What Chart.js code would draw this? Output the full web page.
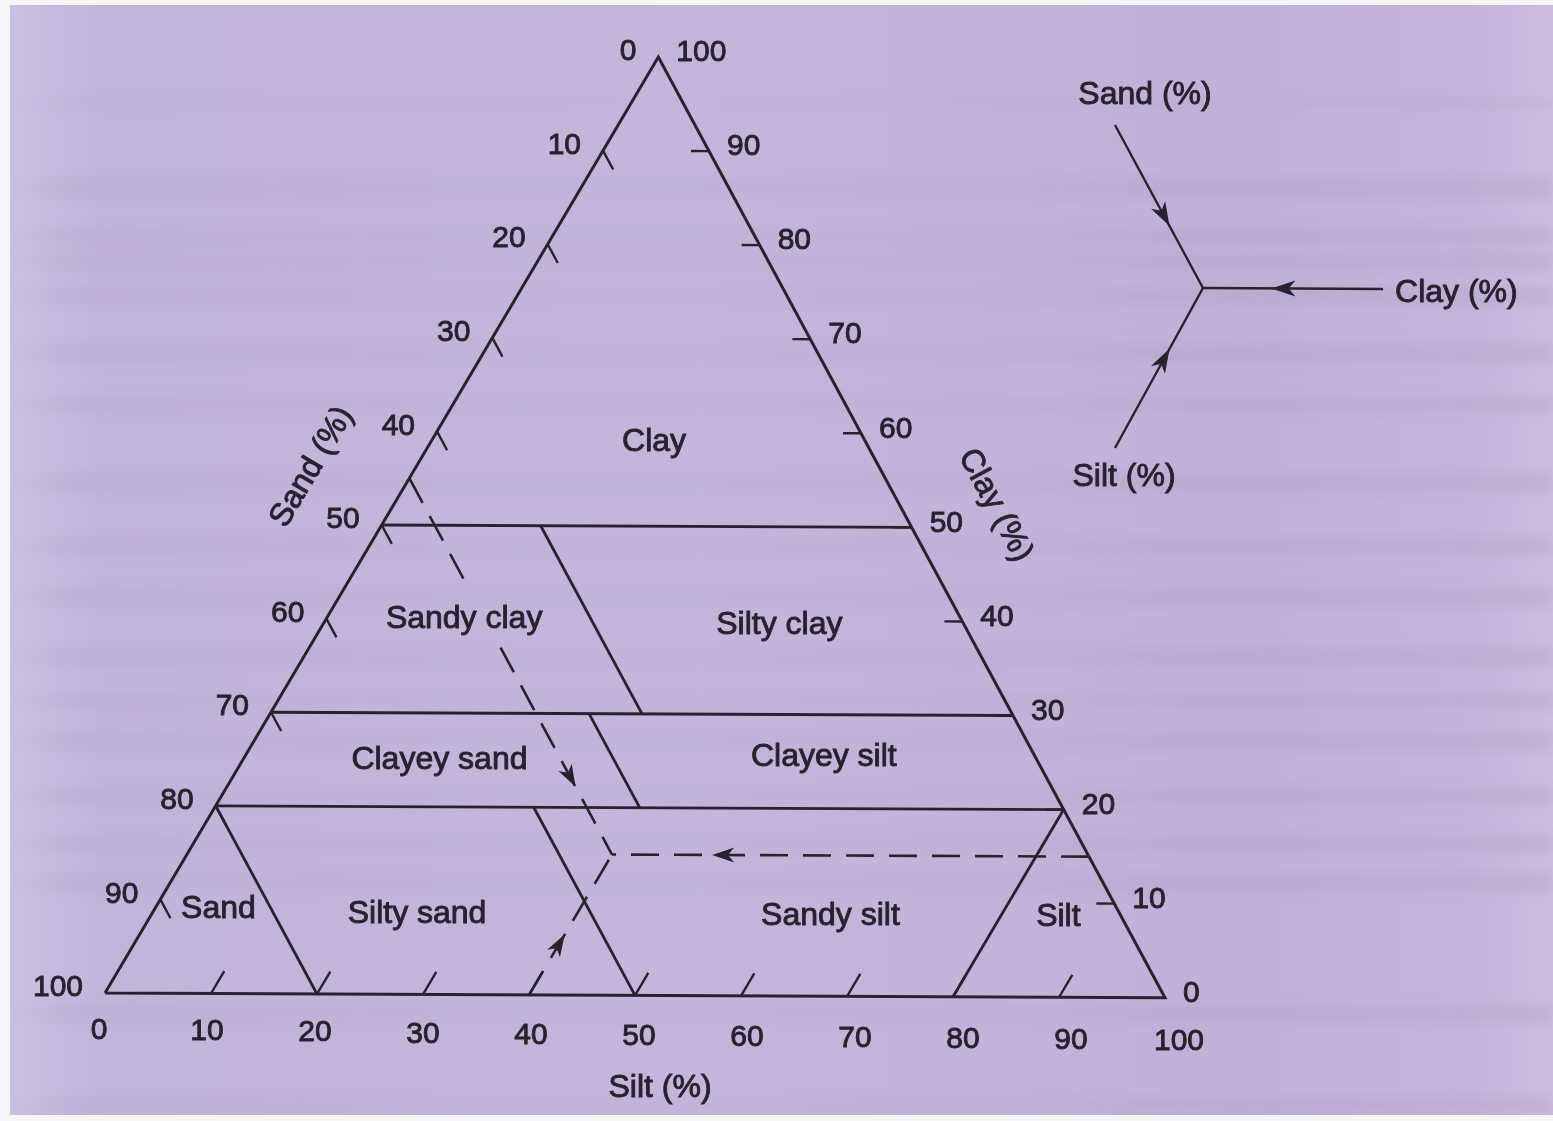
<!DOCTYPE html>
<html>
<head>
<meta charset="utf-8">
<title>Soil texture triangle</title>
<script src="https://cdn.jsdelivr.net/npm/chart.js@4.4.1/dist/chart.umd.min.js"></script>
<style>
  html, body { margin: 0; padding: 0; background: #f7f5fa; }
  #sheet {
    position: absolute; left: 10px; top: 5px; width: 1543px; height: 1110px; overflow: hidden;
    background: linear-gradient(to right, #c8c0e2 0%, #c2b5da 6%, #c4b6db 45%, #c1b1d8 80%, #c7b4db 95%, #cdbbe0 100%);
  }
  #show { position: absolute; left: 0; top: 0; width: 100%; height: 100%; filter: blur(5px); }
  #wrap { position: absolute; left: 0; top: 0; width: 1553px; height: 1121px; }
</style>
</head>
<body>
<div id="sheet"><div id="show"></div></div>
<div id="wrap"><canvas id="soil" width="1553" height="1121"></canvas></div>
<script>
// scale values along each side of the triangle
const sandTicks = [0, 10, 20, 30, 40, 50, 60, 70, 80, 90, 100];
const clayTicks = [0, 10, 20, 30, 40, 50, 60, 70, 80, 90, 100];
const siltTicks = [0, 10, 20, 30, 40, 50, 60, 70, 80, 90, 100];

// class boundaries, end points as [clay %, silt %]
const boundaries = [
  [[50, 0], [50, 50]],
  [[30, 0], [30, 70]],
  [[20, 0], [20, 80]],
  [[50, 15], [30, 35]],
  [[30, 30], [20, 40]],
  [[20, 30], [0, 50]],
  [[20, 0], [0, 20]],
  [[20, 80], [0, 80]]
];

// soil classes and where their names sit, as [clay %, silt %]
const classNames = ['Clay', 'Sandy clay', 'Silty clay', 'Clayey sand', 'Clayey silt', 'Sand', 'Silty sand', 'Sandy silt', 'Silt'];
const classLabelAt = [[59, 21], [40, 13], [39.5, 43], [25, 18.5], [25.5, 54.5], [9, 6], [8.5, 25], [8.5, 64], [8.5, 85.5]];

// worked example
const sample = { sand: 45, silt: 40, clay: 15 };
// the sand guide stops around the "Sandy clay" name (clay %)
const sandGuideGap = [43.5, 37];

// plotting frame: x = silt + SKEW*clay, y = clay - TILT*silt
const SKEW = 0.522, TILT = 0.005;
const X_MIN = -9.906, X_MAX = 136.6, Y_MIN = -13.67, Y_MAX = 106.09;
const INK = '#28222f';
const NUM_FONT = '30px "Liberation Sans", Arial, sans-serif';
const NAME_FONT = '32px "Liberation Sans", Arial, sans-serif';

// direction legend (plot units)
const legendHub = { x: 103.58, y: 75.32 };
const legendArms = [
  { label: 'Sand (%)', from: { x: 95.28, y: 92.74 }, text: { x: 98.11, y: 95.94 }, align: 'center' },
  { label: 'Clay (%)', from: { x: 120.57, y: 75.21 }, text: { x: 121.7, y: 74.8 }, align: 'left' },
  { label: 'Silt (%)', from: { x: 95.28, y: 58.23 }, text: { x: 96.13, y: 55.13 }, align: 'center' }
];

// faint show-through from the facing page (y px, height px)
const showThrough = [[95, 6], [172, 22], [222, 18], [248, 18], [282, 18], [338, 20], [392, 16], [468, 20],
  [532, 18], [582, 20], [642, 20], [688, 16], [726, 20], [782, 18], [830, 18], [868, 20], [1000, 18], [1092, 16]];
document.getElementById('show').style.background = showThrough.map(([top, h]) =>
  `linear-gradient(to right, rgba(70,60,90,0) 0%, rgba(70,60,90,0.035) 3%, rgba(70,60,90,0.015) 30%, rgba(70,60,90,0.02) 60%, rgba(70,60,90,0.05) 75%, rgba(70,60,90,0.06) 100%) 0 ${top}px / 100% ${h}px no-repeat`
).join(',');

function tern(clay, silt) {
  return { x: silt + SKEW * clay, y: clay - TILT * silt };
}

function seg(a, b, extra) {
  return Object.assign({
    data: [a, b], showLine: true, borderColor: INK, borderWidth: 2.8,
    pointRadius: 0, fill: false, tension: 0
  }, extra || {});
}

const datasets = [];

// outline
datasets.push({
  data: [tern(0, 0), tern(0, 100), tern(100, 0), tern(0, 0)],
  showLine: true, borderColor: INK, borderWidth: 3, pointRadius: 0, fill: false
});

boundaries.forEach(([a, b]) => datasets.push(seg(tern(a[0], a[1]), tern(b[0], b[1]))));

// ticks: sand side points along constant sand, clay side along constant clay, silt side along constant silt
const TICK_SAND = 2, TICK_CLAY = 1.7, TICK_SILT = 2.4;
sandTicks.slice(1, -1).forEach(v => {
  const c = 100 - v;
  datasets.push(seg(tern(c, 0), tern(c - TICK_SAND, TICK_SAND), { borderWidth: 2.4 }));
});
clayTicks.slice(1, -1).forEach(v => {
  const s = 100 - v;
  datasets.push(seg(tern(v, s), tern(v, s - TICK_CLAY), { borderWidth: 2.4 }));
});
siltTicks.slice(1, -1).forEach(v => {
  datasets.push(seg(tern(0, v), tern(TICK_SILT, v), { borderWidth: 2.4 }));
});

// dashed guides to the example point
const dash = { borderDash: [28, 15], borderWidth: 2.6 };
const onSand = c => tern(c, 100 - sample.sand - c);
const sandTop = 100 - sample.sand;
datasets.push(seg(onSand(sandTop), onSand(sandGuideGap[0]), dash));
datasets.push(seg(onSand(sandGuideGap[1]), onSand(sample.clay), dash));
datasets.push(seg(tern(sample.clay, 100 - sample.clay), tern(sample.clay, sample.silt), dash));
datasets.push(seg(tern(0, sample.silt), tern(sample.clay, sample.silt), dash));

// legend arms
legendArms.forEach(arm => datasets.push(seg(arm.from, legendHub, { borderWidth: 2.4 })));

function arrowHead(ctx, a, b, t, len, half) {
  const ang = Math.atan2(b[1] - a[1], b[0] - a[0]);
  const tipX = a[0] + (b[0] - a[0]) * t, tipY = a[1] + (b[1] - a[1]) * t;
  ctx.save();
  ctx.translate(tipX, tipY);
  ctx.rotate(ang);
  ctx.beginPath();
  ctx.moveTo(0, 0);
  ctx.lineTo(-len, -half);
  ctx.lineTo(-len * 0.72, 0);
  ctx.lineTo(-len, half);
  ctx.closePath();
  ctx.fillStyle = INK;
  ctx.fill();
  ctx.restore();
}

// heavier ink for printed lettering
function inkText(ctx, str, x, y) {
  ctx.fillText(str, x, y);
  ctx.strokeText(str, x, y);
}

const inkPlugin = {
  id: 'ternaryInk',
  afterDatasetsDraw(chart) {
    const { ctx, scales } = chart;
    const px = p => [scales.x.getPixelForValue(p.x), scales.y.getPixelForValue(p.y)];
    const text = (str, p, dx, dy, align, font) => {
      ctx.font = font;
      ctx.textAlign = align;
      inkText(ctx, str, p[0] + dx, p[1] + dy);
    };
    ctx.save();
    ctx.fillStyle = INK;
    ctx.strokeStyle = INK;
    ctx.lineWidth = 0.9;
    ctx.textBaseline = 'middle';

    // scale numbers
    sandTicks.forEach(v => text(String(v), px(tern(100 - v, 0)), -22, -5, 'right', NUM_FONT));
    clayTicks.forEach(v => text(String(v), px(tern(v, 100 - v)), 18, -4, 'left', NUM_FONT));
    siltTicks.forEach(v => text(String(v), px(tern(0, v)), -6 + v * 0.2, 38 + v * 0.06, 'center', NUM_FONT));

    // side titles follow the slope of their side
    const pA = px(tern(0, 0)), pB = px(tern(0, 100)), pC = px(tern(100, 0));
    const leftAng = Math.atan2(pC[1] - pA[1], pC[0] - pA[0]);
    const rightAng = Math.atan2(pB[1] - pC[1], pB[0] - pC[0]);
    ctx.font = NAME_FONT;
    ctx.textAlign = 'center';
    let p = px({ x: 19.53, y: 56.2 });
    ctx.save(); ctx.translate(p[0], p[1]); ctx.rotate(leftAng); inkText(ctx, 'Sand (%)', 0, 0); ctx.restore();
    p = px({ x: 83.96, y: 52.1 });
    ctx.save(); ctx.translate(p[0], p[1]); ctx.rotate(rightAng); inkText(ctx, 'Clay (%)', 0, 0); ctx.restore();
    p = px({ x: 52.36, y: -10.15 });
    inkText(ctx, 'Silt (%)', p[0], p[1]);

    // class names
    classNames.forEach((name, i) => {
      const [c, s] = classLabelAt[i];
      text(name, px(tern(c, s)), 0, 0, 'center', NAME_FONT);
    });

    // arrowheads on the guides
    const target = px(tern(sample.clay, sample.silt));
    arrowHead(ctx, px(onSand(sandTop)), target, 0.82, 22, 7.5);
    arrowHead(ctx, px(tern(sample.clay, 100 - sample.clay)), target, 0.79, 22, 7.5);
    arrowHead(ctx, px(tern(0, sample.silt)), target, 0.43, 22, 7.5);

    // legend
    const hub = px(legendHub);
    legendArms.forEach(arm => {
      arrowHead(ctx, px(arm.from), hub, 0.62, 24, 8);
      text(arm.label, px(arm.text), 0, 0, arm.align, NAME_FONT);
    });
    ctx.restore();
  }
};

new Chart(document.getElementById('soil'), {
  type: 'scatter',
  data: { datasets },
  options: {
    responsive: false,
    animation: false,
    devicePixelRatio: 1,
    layout: { padding: 0 },
    scales: {
      x: { type: 'linear', min: X_MIN, max: X_MAX, display: false },
      y: { type: 'linear', min: Y_MIN, max: Y_MAX, display: false }
    },
    plugins: { legend: { display: false }, tooltip: { enabled: false } },
    elements: { line: { borderCapStyle: 'butt' } }
  },
  plugins: [inkPlugin]
});
</script>
</body>
</html>
